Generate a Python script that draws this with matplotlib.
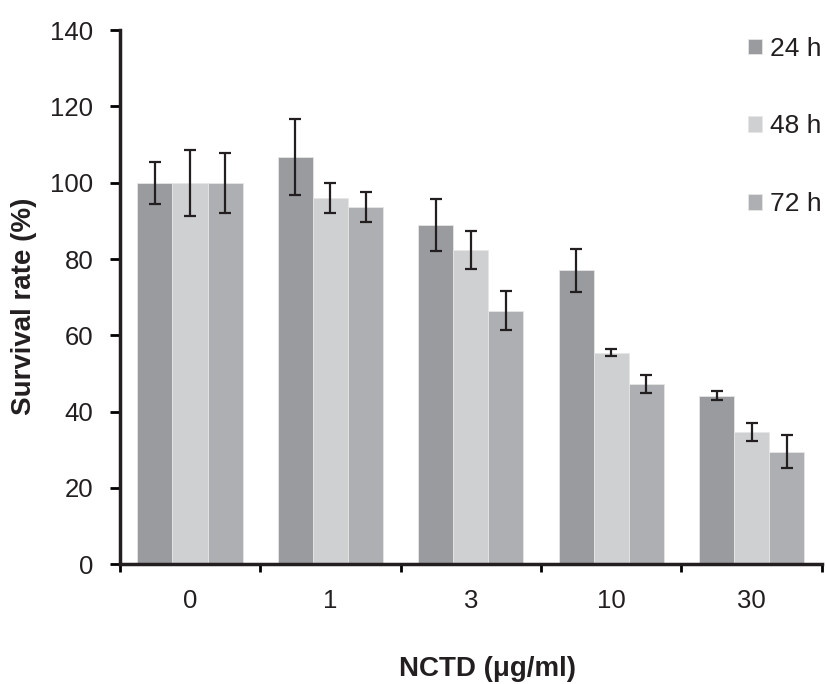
import numpy as np
import matplotlib.pyplot as plt

plt.rcParams['font.family'] = ['Liberation Sans', 'DejaVu Sans']

doses = ['0', '1', '3', '10', '30']
labels = ['24 h', '48 h', '72 h']
rate_24 = [100, 106.8, 89.0, 77.0, 44.2]
rate_48 = [100, 96.0, 82.4, 55.4, 34.7]
rate_72 = [100, 93.7, 66.5, 47.2, 29.5]
err_24 = [5.5, 10.0, 6.8, 5.7, 1.1]
err_48 = [8.7, 4.0, 4.9, 0.9, 2.4]
err_72 = [7.9, 3.9, 5.0, 2.4, 4.3]
colors = ['#9a9b9f', '#cfd0d2', '#aeafb2']

rates = [rate_24, rate_48, rate_72]
errs = [err_24, err_48, err_72]

fig = plt.figure(figsize=(8.26, 6.84), dpi=100)
ax = fig.add_axes([0.145, 0.175, 0.85, 0.781])

x = np.arange(len(doses))
w = 0.25
for i in range(3):
    ax.bar(x + (i - 1) * w, rates[i], w, color=colors[i], edgecolor='#e6e6e6',
           linewidth=0.6, label=labels[i])
    ax.errorbar(x + (i - 1) * w, rates[i], yerr=errs[i], fmt='none',
                ecolor='#231f20', elinewidth=1.6, capsize=4, capthick=1.6)

ax.set_xlim(-0.5, 4.5)
ax.set_ylim(0, 140)
ax.set_yticks(np.arange(0, 141, 20))
ax.set_xticks(np.arange(-0.5, 4.6, 1))
ax.set_xticklabels([])
ax.set_xticks(x, minor=True)
ax.set_xticklabels(doses, minor=True)
ax.tick_params(axis='x', which='minor', length=0, pad=18, labelsize=18.5,
               labelcolor='#231f20')
ax.tick_params(axis='x', which='major', length=6, width=2, direction='out')
ax.tick_params(axis='y', length=7, width=2, labelsize=18.5, pad=12,
               labelcolor='#231f20')

for s in ['top', 'right']:
    ax.spines[s].set_visible(False)
for s in ['left', 'bottom']:
    ax.spines[s].set_linewidth(2.5)
    ax.spines[s].set_color('#231f20')

ax.set_ylabel('Survival rate (%)', fontsize=20, fontweight='bold',
              color='#231f20')
ax.yaxis.set_label_coords(-0.118, 0.483)
ax.set_xlabel('NCTD (\u03bcg/ml)', fontsize=20, fontweight='bold',
              color='#231f20')
ax.xaxis.set_label_coords(0.524, -0.172)
ax.xaxis.label.set_va('top')

leg = ax.legend(loc='upper right', bbox_to_anchor=(1.026, 1.022), frameon=False,
                fontsize=19, handlelength=0.55, handleheight=0.55,
                handletextpad=0.3, labelspacing=2.03, borderpad=0.2)
for t in leg.get_texts():
    t.set_color('#231f20')

fig.savefig('out.png', dpi=100)
